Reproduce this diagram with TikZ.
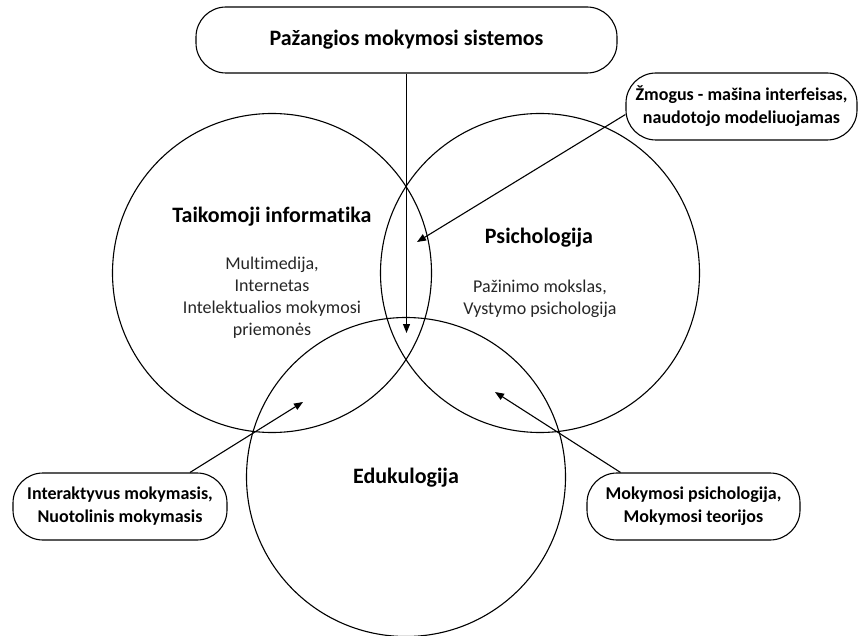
\documentclass[tikz,border=0pt]{standalone}
\usepackage{fontspec}
\setmainfont{Carlito}[Ligatures=NoCommon]
\usetikzlibrary{arrows.meta}
\begin{document}
\begin{tikzpicture}[x=1pt,y=-1pt,
  line width=1.1pt,
  area/.style={draw, circle, minimum size=319pt, inner sep=0pt},
  rbox/.style={draw, fill=white, rounded corners=30pt, inner sep=0pt, align=center,
    font=\fontsize{18}{23}\selectfont\bfseries},
  head/.style={font=\fontsize{22}{26}\selectfont\bfseries},
  body/.style={align=center, text=black!85, font=\fontsize{18}{22}\selectfont},
  arr/.style={-{Triangle[length=9pt,width=7pt]}}
]
\useasboundingbox (0,0) rectangle (861,636);

% the three overlapping fields
\node[area] (inf) at (272,273) {};
\node[area] (psy) at (540,273) {};
\node[area] (edu) at (406,477) {};

% field titles and contents
\node[head] (infT) at (272,217) {Taikomoji informatika};
\node[body, anchor=north] (infB) at (272,253) {Multimedija,\\Internetas\\Intelektualios mokymosi\\priemonės};
\node[head] (psyT) at (539,238) {Psichologija};
\node[body, anchor=north] (psyB) at (540,276) {Pažinimo mokslas,\\Vystymo psichologija};
\node[head] (eduT) at (406,478) {Edukulogija};

% callout boxes
\node[rbox, minimum width=421pt, minimum height=66pt, font=\fontsize{22}{26}\selectfont\bfseries]
  (ims) at (406.5,40) {Pažangios mokymosi sistemos};
\node[rbox, minimum width=231pt, minimum height=67pt] (hmi) at (741.5,106.5)
  {Žmogus - mašina interfeisas,\\naudotojo modeliuojamas};
\node[rbox, minimum width=214pt, minimum height=67pt] (dist) at (120,506.5)
  {Interaktyvus mokymasis,\\Nuotolinis mokymasis};
\node[rbox, minimum width=213pt, minimum height=67pt] (lrn) at (693.5,506.5)
  {Mokymosi psichologija,\\Mokymosi teorijos};

% arrow ends inside the overlaps
\coordinate (center3) at (406.5,333);
\coordinate (infpsy) at (417,242);
\coordinate (infedu) at (303,402);
\coordinate (psyedu) at (495,392);

\draw[arr] (ims.south) -- (center3);
\draw[arr] ([yshift=-8pt]hmi.west) -- (infpsy);
\draw[arr] ([xshift=70pt]dist.north) -- (infedu);
\draw[arr] ([xshift=-73pt]lrn.north) -- (psyedu);
\end{tikzpicture}
\end{document}
